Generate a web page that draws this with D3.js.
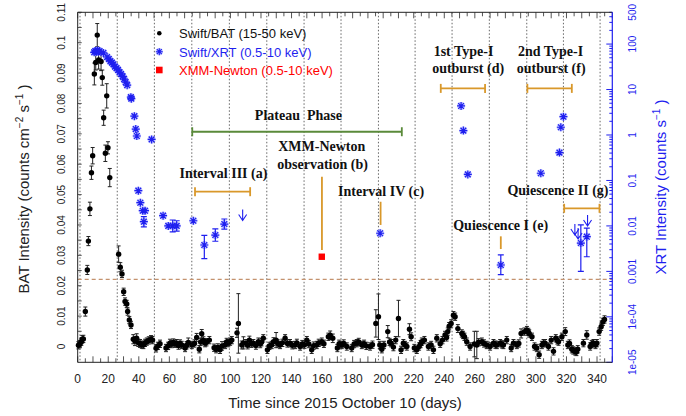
<!DOCTYPE html>
<html>
<head>
<meta charset="utf-8">
<script src="https://cdn.jsdelivr.net/npm/d3@7"></script>
<style>
body { margin: 0; background: #fff; }
</style>
</head>
<body>
<div id="chart"></div>
<script>
// Swift/BAT daily rates (15-50 keV)
var batDay = [0.5,1.5,2.4,3.0,3.7,5.0,6.3,7.0,8.0,9.0,9.8,10.9,11.8,12.8,13.7,15.3,16.1,17.0,18.1,19.0,19.8,21.0,
  26.8,27.9,29.0,30.1,31.0,32.1,32.7,33.8,34.9,36.4,37.5,38.6,39.7,40.8,42.0,43.0,44.1,45.2,46.5,48.0,49.0,
  51.3,52.5,53.9,57.8,59.2,60.4,61.5,62.6,63.7,64.8,66.0,67.0,68.1,70.3,71.3,72.4,74.7,76.5,77.9,79.6,80.5,81.2,82.3,83.4,84.3,86.2,
  89.3,90.6,91.8,93.2,94.5,96.5,97.5,98.6,99.8,100.9,104.3,105.2,107.4,108.5,110.2,111.3,112.4,113.6,115.0,116.7,118.3,119.5,120.3,121.5,
  124.2,125.5,127.0,128.2,129.9,131.0,132.5,134.0,135.8,137.3,139.0,140.5,142.3,143.5,145.6,147.0,148.5,150.0,151.3,153.2,154.5,156.5,157.8,
  159.8,161.2,164.1,165.3,167.0,170.0,171.2,172.9,174.2,176.2,179.4,181.0,182.7,184.0,186.0,187.5,189.0,191.4,193.0,195.2,196.9,197.8,199.1,
  200.5,203.0,204.2,205.2,206.7,208.2,210.0,211.7,213.2,214.3,215.5,217.2,218.3,220.4,222.0,223.5,224.5,225.3,227.0,229.6,231.4,232.9,235.1,
  237.3,238.8,240.5,241.5,242.3,243.2,244.5,246.0,247.1,248.9,251.5,252.3,253.2,254.7,256.9,259.7,261.3,262.5,264.6,266.0,267.8,270.0,272.2,
  273.5,274.4,276.6,277.8,278.7,280.9,283.8,285.3,287.5,288.8,290.3,292.5,294.1,295.0,295.6,297.4,299.1,300.6,302.1,303.9,305.0,306.0,308.2,
  310.0,311.5,313.0,314.0,314.8,317.0,319.2,320.9,322.0,323.5,324.5,325.7,326.5,327.4,331.1,333.3,335.5,336.5,337.7,339.0,339.9,341.4,342.7,343.8,344.9];
var batRate = [0.0004,0.0008,0.0016,0.0024,0.0025,0.0115,0.0252,0.0347,0.0453,0.0572,0.0628,0.0897,0.0935,0.1025,0.0943,0.0938,0.0885,0.0753,0.0636,0.0825,0.0654,0.0556,
  0.0304,0.0261,0.0239,0.0180,0.0148,0.0140,0.0115,0.0087,0.0071,0.0024,0.0018,0.0027,0.0012,0.0010,0.0006,0.0005,0.0012,0.0016,0.0020,0.0024,0.0021,
  -0.0006,0.0002,0.0009,-0.0005,0.0002,0.0011,0.0008,0.0013,0.0009,0.0011,0.0003,0.0010,0.0005,-0.0005,0.0004,0.0013,0.0005,0.0010,0.0030,-0.0009,0.0015,0.0042,0.0020,0.0011,0.0014,0.0021,
  -0.0004,-0.0009,-0.0003,-0.0011,0.0002,0.0005,0.0015,0.0011,0.0016,0.0021,0.0045,0.0076,0.0005,0.0012,0.0011,0.0004,0.0021,0.0009,0.0011,0.0003,0.0016,0.0008,0.0014,0.0027,
  -0.0011,0.0002,0.0005,0.0016,0.0021,0.0010,0.0005,0.0012,0.0027,0.0010,0.0011,0.0004,0.0005,0.0012,0.0000,0.0008,0.0006,0.0021,0.0008,-0.0011,0.0003,0.0005,0.0012,
  0.0016,0.0009,0.0032,0.0037,0.0027,-0.0005,0.0009,0.0005,0.0010,0.0000,-0.0005,0.0008,0.0011,0.0015,0.0005,0.0009,0.0002,0.0000,0.0006,0.0076,0.0098,0.0005,-0.0009,
  0.0005,0.0049,0.0015,0.0011,-0.0002,0.0021,0.0092,-0.0011,0.0011,0.0005,0.0000,0.0057,0.0032,-0.0005,-0.0011,0.0000,0.0008,0.0016,0.0021,0.0000,0.0005,-0.0011,0.0027,
  0.0009,0.0021,0.0038,0.0030,0.0049,0.0067,0.0076,0.0103,0.0098,0.0059,0.0043,0.0038,0.0032,0.0016,0.0000,0.0008,0.0005,0.0014,0.0016,0.0010,0.0005,0.0000,0.0011,
  0.0006,0.0005,0.0011,0.0007,0.0005,0.0021,-0.0005,0.0011,0.0005,0.0010,0.0043,0.0049,0.0054,0.0048,0.0043,0.0032,0.0000,-0.0005,-0.0027,0.0005,0.0011,0.0011,0.0000,
  0.0021,-0.0016,0.0027,0.0020,0.0016,0.0032,0.0049,0.0005,0.0010,-0.0009,-0.0013,-0.0016,-0.0018,-0.0009,0.0011,0.0038,0.0000,0.0008,0.0011,0.0005,0.0011,0.0049,0.0065,0.0081,0.0089];
var batErr = [0.0012,0.0012,0.0012,0.0012,0.0012,0.0015,0.0015,0.0015,0.0022,0.0022,0.0027,0.0036,0.0025,0.0038,0.003,0.003,0.0025,0.0025,0.0027,0.004,0.002,0.003,
  0.0027,0.0015,0.0012,0.0012,0.0012,0.0012,0.0012,0.0012,0.0012,0.0015,0.0015,0.0015,0.0012,0.0013,0.0012,0.0012,0.0012,0.0012,0.0012,0.0012,0.0012,
  0.0012,0.0012,0.0012,0.0012,0.0012,0.0013,0.0012,0.0012,0.0012,0.0012,0.0012,0.0012,0.0012,0.0012,0.0012,0.0015,0.0012,0.0012,0.0013,0.0012,0.0012,0.0014,0.0012,0.0012,0.0012,0.0012,
  0.0012,0.0012,0.0012,0.0012,0.0014,0.0012,0.0012,0.0012,0.0012,0.0012,0.0015,0.0098,0.0013,0.0020,0.0012,0.0012,0.0013,0.0012,0.0012,0.0012,0.0012,0.0012,0.0012,0.0012,
  0.0012,0.0012,0.0012,0.0013,0.0025,0.0012,0.0012,0.0012,0.0012,0.0012,0.0012,0.0012,0.0012,0.0012,0.0012,0.0012,0.0012,0.0012,0.0012,0.0012,0.0012,0.0012,0.0012,
  0.0012,0.0012,0.0012,0.0014,0.0014,0.0012,0.0012,0.0012,0.0012,0.0012,0.0012,0.0012,0.0012,0.0012,0.0012,0.0012,0.0012,0.0012,0.0012,0.0045,0.0075,0.0012,0.0012,
  0.0012,0.0020,0.0012,0.0012,0.0012,0.0012,0.0060,0.0012,0.0012,0.0012,0.0012,0.0018,0.0013,0.0012,0.0012,0.0012,0.0012,0.0012,0.0012,0.0012,0.0012,0.0012,0.0012,
  0.0012,0.0012,0.0012,0.0012,0.0012,0.0012,0.0012,0.0012,0.0012,0.0013,0.0012,0.0012,0.0012,0.0012,0.0012,0.0042,0.0045,0.0012,0.0012,0.0012,0.0012,0.0012,0.0012,
  0.0012,0.0012,0.0012,0.0012,0.0012,0.0012,0.0012,0.0012,0.0012,0.0012,0.0015,0.0012,0.0012,0.0012,0.0012,0.0012,0.0012,0.0012,0.0012,0.0012,0.0012,0.0012,0.0012,
  0.0012,0.0012,0.0012,0.0012,0.0012,0.0012,0.0013,0.0012,0.0012,0.0012,0.0012,0.0012,0.0012,0.0012,0.0012,0.0014,0.0012,0.0012,0.0012,0.0012,0.0012,0.0012,0.0012,0.0012,0.0012];

// Swift/XRT rates (0.5-10 keV), lo/hi = error bar ends (null = smaller than symbol)
var xrtDay  = [10.8,11.5,12.2,12.9,13.6,14.3,16.8,19.2,20.4,21.4,22.4,23.4,24.4,25.4,26.4,27.4,28.4,29.4,30.4,31.4,32.4,34.8,35.1,37.1,38.0,38.7,48.4,
  39.7,41.0,42.6,43.3,44.1,55.9,59.3,62.2,64.8,75.7,82.9,90.1,96.0,198.0,251.0,252.5,255.4,277.0,303.2,315.4,316.3,318.0,329.4,333.3];
var xrtRate = [66,70,68,72,68,70,64,52,47,42,39,36,32,29.5,27,24,22,19.5,17,14.5,12.5,6.8,6.3,2.6,1.35,0.95,0.8,
  0.0596,0.0324,0.0216,0.0124,0.0216,0.0168,0.0100,0.0100,0.0100,0.013,0.0038,0.0063,0.0110,0.0069,4.35,1.25,0.136,0.00138,0.144,0.41,1.48,2.53,0.0042,0.0058];
var xrtLo = [null,null,null,null,null,null,null,null,null,null,null,null,null,null,null,null,null,null,null,null,null,null,null,null,null,null,null,
  null,null,null,0.0095,null,null,null,0.0074,0.0077,null,0.0019,0.0046,0.0085,null,null,null,null,0.00085,null,null,null,null,0.001,0.0021];
var xrtHi = [null,null,null,null,null,null,null,null,null,null,null,null,null,null,null,null,null,null,null,null,null,null,null,null,null,null,null,
  null,null,null,0.016,null,null,null,0.0135,0.013,null,0.0062,0.0086,0.0142,null,null,null,null,0.0023,null,null,null,null,0.0105,0.0089];

// XRT upper limits
var ulDay = [108.0, 325.5, 327.6, 333.8];
var ulRate = [0.023, 0.011, 0.009, 0.0174];

// XMM-Newton (0.5-10 keV)
var xmmDay = [159.8];
var xmmRate = [0.0021];

// dotted reference epochs (days)
var epochDay = [1.5,25.9,50.2,74.7,99.3,123.8,148.2,172.4,196.9,220.9,245.1,269.5,294.0,318.0,342.0];

// BAT level of dashed line
var dashLevel = 0.0221;

// phase bars: start, end, XRT level
var spanStart = [76.8, 75.0, 237.7, 294.4, 318.5];
var spanEnd   = [112.9, 212.2, 266.7, 323.5, 341.6];
var spanLevel = [0.0566, 1.18, 10.6, 10.6, 0.0244];
var spanColor = ["#d9982a", "#5a8a3a", "#d9982a", "#d9982a", "#d9982a"];

// marker lines: day, top, bottom (XRT units)
var tagDay = [159.9, 198.3, 277.0];
var tagTop = [0.121, 0.034, 0.0059];
var tagBottom = [0.00295, 0.0105, 0.0031];

var xTicks = [0,20,40,60,80,100,120,140,160,180,200,220,240,260,280,300,320,340];
var leftTicks = [0,0.01,0.02,0.03,0.04,0.05,0.06,0.07,0.08,0.09,0.1,0.11];
var leftLabels = ["0","0.01","0.02","0.03","0.04","0.05","0.06","0.07","0.08","0.09","0.1","0.11"];
var rightTicks = [1e-5,1e-4,1e-3,1e-2,0.1,1,10,100,500];
var rightLabels = ["1e-05","1e-04","0.001","0.01","0.1","1","10","100","500"];

var width = 686;
var height = 416;
var blue = "#1f1fef";

var x = d3.scaleLinear().domain([0, 350]).range([77.7, 612.3]);
var yL = d3.scaleLinear().domain([-0.0052, 0.11]).range([362.3, 12.3]);
var yR = d3.scaleLog().domain([1e-5, 500]).range([362.3, 12.3]);

var svg = d3.select("#chart")
  .append("svg")
  .attr("width", width)
  .attr("height", height)
  .style("font-family", "'Liberation Sans', Arial, sans-serif");

// dotted epochs
svg.append("g").selectAll("line")
  .data(epochDay)
  .enter().append("line")
  .attr("x1", d => x(d)).attr("x2", d => x(d))
  .attr("y1", 12.3).attr("y2", 362.3)
  .attr("stroke", "#555").attr("stroke-width", 0.9)
  .attr("stroke-dasharray", "1.5,2");

// dashed level
svg.append("line")
  .attr("x1", 77.7).attr("x2", 612.3)
  .attr("y1", yL(dashLevel)).attr("y2", yL(dashLevel))
  .attr("stroke", "#c4926e").attr("stroke-width", 1.2)
  .attr("stroke-dasharray", "4,3");

// ticks inside frame
var minorX = d3.range(0, 351, 5);
var tk = svg.append("g").attr("stroke", "#555").attr("stroke-width", 1);
minorX.forEach(function(d) {
  var len = d % 10 === 0 ? 6 : 4;
  tk.append("line").attr("x1", x(d)).attr("x2", x(d)).attr("y1", 362.3).attr("y2", 362.3 - len);
  tk.append("line").attr("x1", x(d)).attr("x2", x(d)).attr("y1", 12.3).attr("y2", 12.3 + len);
});
d3.range(0, 0.1101, 0.005).forEach(function(d) {
  tk.append("line").attr("x1", 77.7).attr("x2", 81.7).attr("y1", yL(d)).attr("y2", yL(d));
});

// right log ticks
var rt = svg.append("g").attr("stroke", blue).attr("stroke-width", 1);
for (var e = -5; e <= 2; e++) {
  for (var m = 1; m <= 9; m++) {
    var v = m * Math.pow(10, e);
    if (v > 500) break;
    rt.append("line")
      .attr("x1", 612.3).attr("x2", 612.3 - (m === 1 ? 6 : 3))
      .attr("y1", yR(v)).attr("y2", yR(v));
  }
}

// frame
svg.append("path")
  .attr("d", "M612.3,12.3H77.7V362.3H612.3")
  .attr("fill", "none").attr("stroke", "#222").attr("stroke-width", 1);
svg.append("line")
  .attr("x1", 612.3).attr("x2", 612.3).attr("y1", 12.3).attr("y2", 362.3)
  .attr("stroke", blue).attr("stroke-width", 1.2);

// tick labels
svg.append("g").selectAll("text")
  .data(xTicks)
  .enter().append("text")
  .attr("x", d => x(d)).attr("y", 383)
  .attr("text-anchor", "middle")
  .attr("font-size", 12)
  .attr("fill", "#222")
  .text(d => d);

svg.append("g").selectAll("text")
  .data(leftTicks)
  .enter().append("text")
  .attr("transform", d => "translate(65," + yL(d) + ") rotate(-90)")
  .attr("text-anchor", "middle")
  .attr("font-size", 10)
  .attr("fill", "#222")
  .text((d, i) => leftLabels[i]);

svg.append("g").selectAll("text")
  .data(rightTicks)
  .enter().append("text")
  .attr("transform", d => "translate(635.5," + yR(d) + ") rotate(-90)")
  .attr("text-anchor", "middle")
  .attr("font-size", 10)
  .attr("fill", blue)
  .text((d, i) => rightLabels[i]);

// axis titles
svg.append("text")
  .attr("x", 345).attr("y", 408)
  .attr("text-anchor", "middle")
  .attr("font-size", 15)
  .attr("fill", "#222")
  .text("Time since 2015 October 10 (days)");

var lt = svg.append("text")
  .attr("transform", "translate(29,189) rotate(-90)")
  .attr("text-anchor", "middle")
  .attr("font-size", 15)
  .attr("fill", "#222");
lt.append("tspan").text("BAT Intensity (counts cm");
lt.append("tspan").attr("font-size", 10).attr("dy", -6).text("−2");
lt.append("tspan").attr("dy", 6).text(" s");
lt.append("tspan").attr("font-size", 10).attr("dy", -6).text("−1");
lt.append("tspan").attr("dy", 6).text(" )");

var rtit = svg.append("text")
  .attr("transform", "translate(666,187) rotate(-90)")
  .attr("text-anchor", "middle")
  .attr("font-size", 15)
  .attr("fill", blue);
rtit.append("tspan").text("XRT Intensity (counts s");
rtit.append("tspan").attr("font-size", 10).attr("dy", -6).text("−1");
rtit.append("tspan").attr("dy", 6).text(" )");

// phase bars
var sp = svg.append("g");
spanStart.forEach(function(s, i) {
  var yy = yR(spanLevel[i]);
  var g = sp.append("g").attr("stroke", spanColor[i]).attr("stroke-width", 1.8);
  g.append("line").attr("x1", x(s)).attr("x2", x(spanEnd[i])).attr("y1", yy).attr("y2", yy);
  g.append("line").attr("x1", x(s)).attr("x2", x(s)).attr("y1", yy - 4.5).attr("y2", yy + 4.5);
  g.append("line").attr("x1", x(spanEnd[i])).attr("x2", x(spanEnd[i])).attr("y1", yy - 4.5).attr("y2", yy + 4.5);
});
tagDay.forEach(function(d, i) {
  sp.append("line")
    .attr("x1", x(d)).attr("x2", x(d))
    .attr("y1", yR(tagTop[i])).attr("y2", yR(tagBottom[i]))
    .attr("stroke", "#d9982a").attr("stroke-width", 1.8);
});

// BAT points
var bat = batDay.map((d, i) => ({ t: d, v: batRate[i], e: batErr[i] }));
var bg = svg.append("g").attr("stroke", "#222").attr("stroke-width", 1);
bg.selectAll("path.eb")
  .data(bat)
  .enter().append("path")
  .attr("class", "eb")
  .attr("fill", "none")
  .attr("d", function(d) {
    var cx = x(d.t), y1 = yL(d.v + d.e), y2 = yL(d.v - d.e);
    return "M" + cx + "," + y1 + "V" + y2 +
      "M" + (cx - 2) + "," + y1 + "H" + (cx + 2) +
      "M" + (cx - 2) + "," + y2 + "H" + (cx + 2);
  });
bg.selectAll("circle")
  .data(bat)
  .enter().append("circle")
  .attr("cx", d => x(d.t))
  .attr("cy", d => yL(d.v))
  .attr("r", 2.7)
  .attr("fill", "#000")
  .attr("stroke", "none");

// XRT points
function star(cx, cy, r) {
  var d = "M" + (cx - r) + "," + cy + "H" + (cx + r) +
          "M" + cx + "," + (cy - r) + "V" + (cy + r);
  var q = r * 0.72;
  d += "M" + (cx - q) + "," + (cy - q) + "L" + (cx + q) + "," + (cy + q) +
       "M" + (cx - q) + "," + (cy + q) + "L" + (cx + q) + "," + (cy - q);
  return d;
}
var xrt = xrtDay.map((d, i) => ({ t: d, v: xrtRate[i], lo: xrtLo[i], hi: xrtHi[i] }));
var xg = svg.append("g");
xg.selectAll("path.xe")
  .data(xrt.filter(d => d.lo !== null))
  .enter().append("path")
  .attr("class", "xe")
  .attr("fill", "none").attr("stroke", blue).attr("stroke-width", 1.2)
  .attr("d", function(d) {
    var cx = x(d.t), y1 = yR(d.hi), y2 = yR(d.lo);
    return "M" + cx + "," + y1 + "V" + y2 +
      "M" + (cx - 3) + "," + y1 + "H" + (cx + 3) +
      "M" + (cx - 3) + "," + y2 + "H" + (cx + 3);
  });
xg.selectAll("path.halo")
  .data(xrt)
  .enter().append("path")
  .attr("class", "halo")
  .attr("fill", "none").attr("stroke", "#9aa0ff").attr("stroke-width", 2.8).attr("opacity", 0.6)
  .attr("d", d => star(x(d.t), yR(d.v), 4));
xg.selectAll("path.st")
  .data(xrt)
  .enter().append("path")
  .attr("class", "st")
  .attr("fill", "none").attr("stroke", blue).attr("stroke-width", 1.2)
  .attr("d", d => star(x(d.t), yR(d.v), 4));

// upper limits
xg.selectAll("path.ul")
  .data(ulDay)
  .enter().append("path")
  .attr("class", "ul")
  .attr("fill", "none").attr("stroke", blue).attr("stroke-width", 1.1)
  .attr("d", function(d, i) {
    var cx = x(d), y0 = yR(ulRate[i]), y1 = y0 + 11;
    return "M" + cx + "," + y0 + "V" + y1 +
      "M" + (cx - 4) + "," + (y1 - 6) + "L" + cx + "," + y1 + "L" + (cx + 4) + "," + (y1 - 6);
  });

// XMM point
svg.append("g").selectAll("rect")
  .data(xmmDay)
  .enter().append("rect")
  .attr("x", d => x(d) - 3.2)
  .attr("y", (d, i) => yR(xmmRate[i]) - 3.2)
  .attr("width", 6.4).attr("height", 6.4)
  .attr("fill", "#ff0000");

// annotations
var notes = [
  { t: "Plateau  Phase", d: 144.5, y: 120 },
  { t: "1st Type-I", d: 252.6, y: 56 },
  { t: "outburst (d)", d: 255.6, y: 73 },
  { t: "2nd Type-I", d: 309.6, y: 56 },
  { t: "outburst (f)", d: 310, y: 73 },
  { t: "XMM-Newton", d: 159.8, y: 151 },
  { t: "observation (b)", d: 160.3, y: 168.5 },
  { t: "Interval III (a)", d: 95.4, y: 177.5 },
  { t: "Interval IV (c)", d: 198.6, y: 196 },
  { t: "Quiescence I (e)", d: 276.9, y: 229.5 },
  { t: "Quiescence II (g)", d: 314.4, y: 194.5 }
];
svg.append("g").selectAll("text")
  .data(notes)
  .enter().append("text")
  .attr("x", d => x(d.d)).attr("y", d => d.y)
  .attr("text-anchor", "middle")
  .attr("font-family", "'Liberation Serif', 'Times New Roman', serif")
  .attr("font-weight", "bold")
  .attr("font-size", 14)
  .attr("fill", "#111")
  .style("white-space", "pre")
  .text(d => d.t);

// legend
var lg = svg.append("g");
lg.append("circle").attr("cx", 159.3).attr("cy", 33.3).attr("r", 2.3).attr("fill", "#000");
lg.append("path").attr("d", star(159.3, 51.7, 3.5)).attr("fill", "none").attr("stroke", "#9aa0ff").attr("stroke-width", 2.6).attr("opacity", 0.6);
lg.append("path").attr("d", star(159.3, 51.7, 3.5)).attr("fill", "none").attr("stroke", blue).attr("stroke-width", 1.1);
lg.append("rect").attr("x", 156).attr("y", 66.7).attr("width", 6.6).attr("height", 6.6).attr("fill", "#ff0000");
lg.append("text").attr("x", 179).attr("y", 38).attr("font-size", 13).attr("fill", "#111").text("Swift/BAT (15-50 keV)");
lg.append("text").attr("x", 179).attr("y", 56.5).attr("font-size", 13).attr("fill", blue).text("Swift/XRT (0.5-10 keV)");
lg.append("text").attr("x", 179).attr("y", 75).attr("font-size", 13).attr("fill", "#ff0000").text("XMM-Newton (0.5-10 keV)");
</script>
</body>
</html>
